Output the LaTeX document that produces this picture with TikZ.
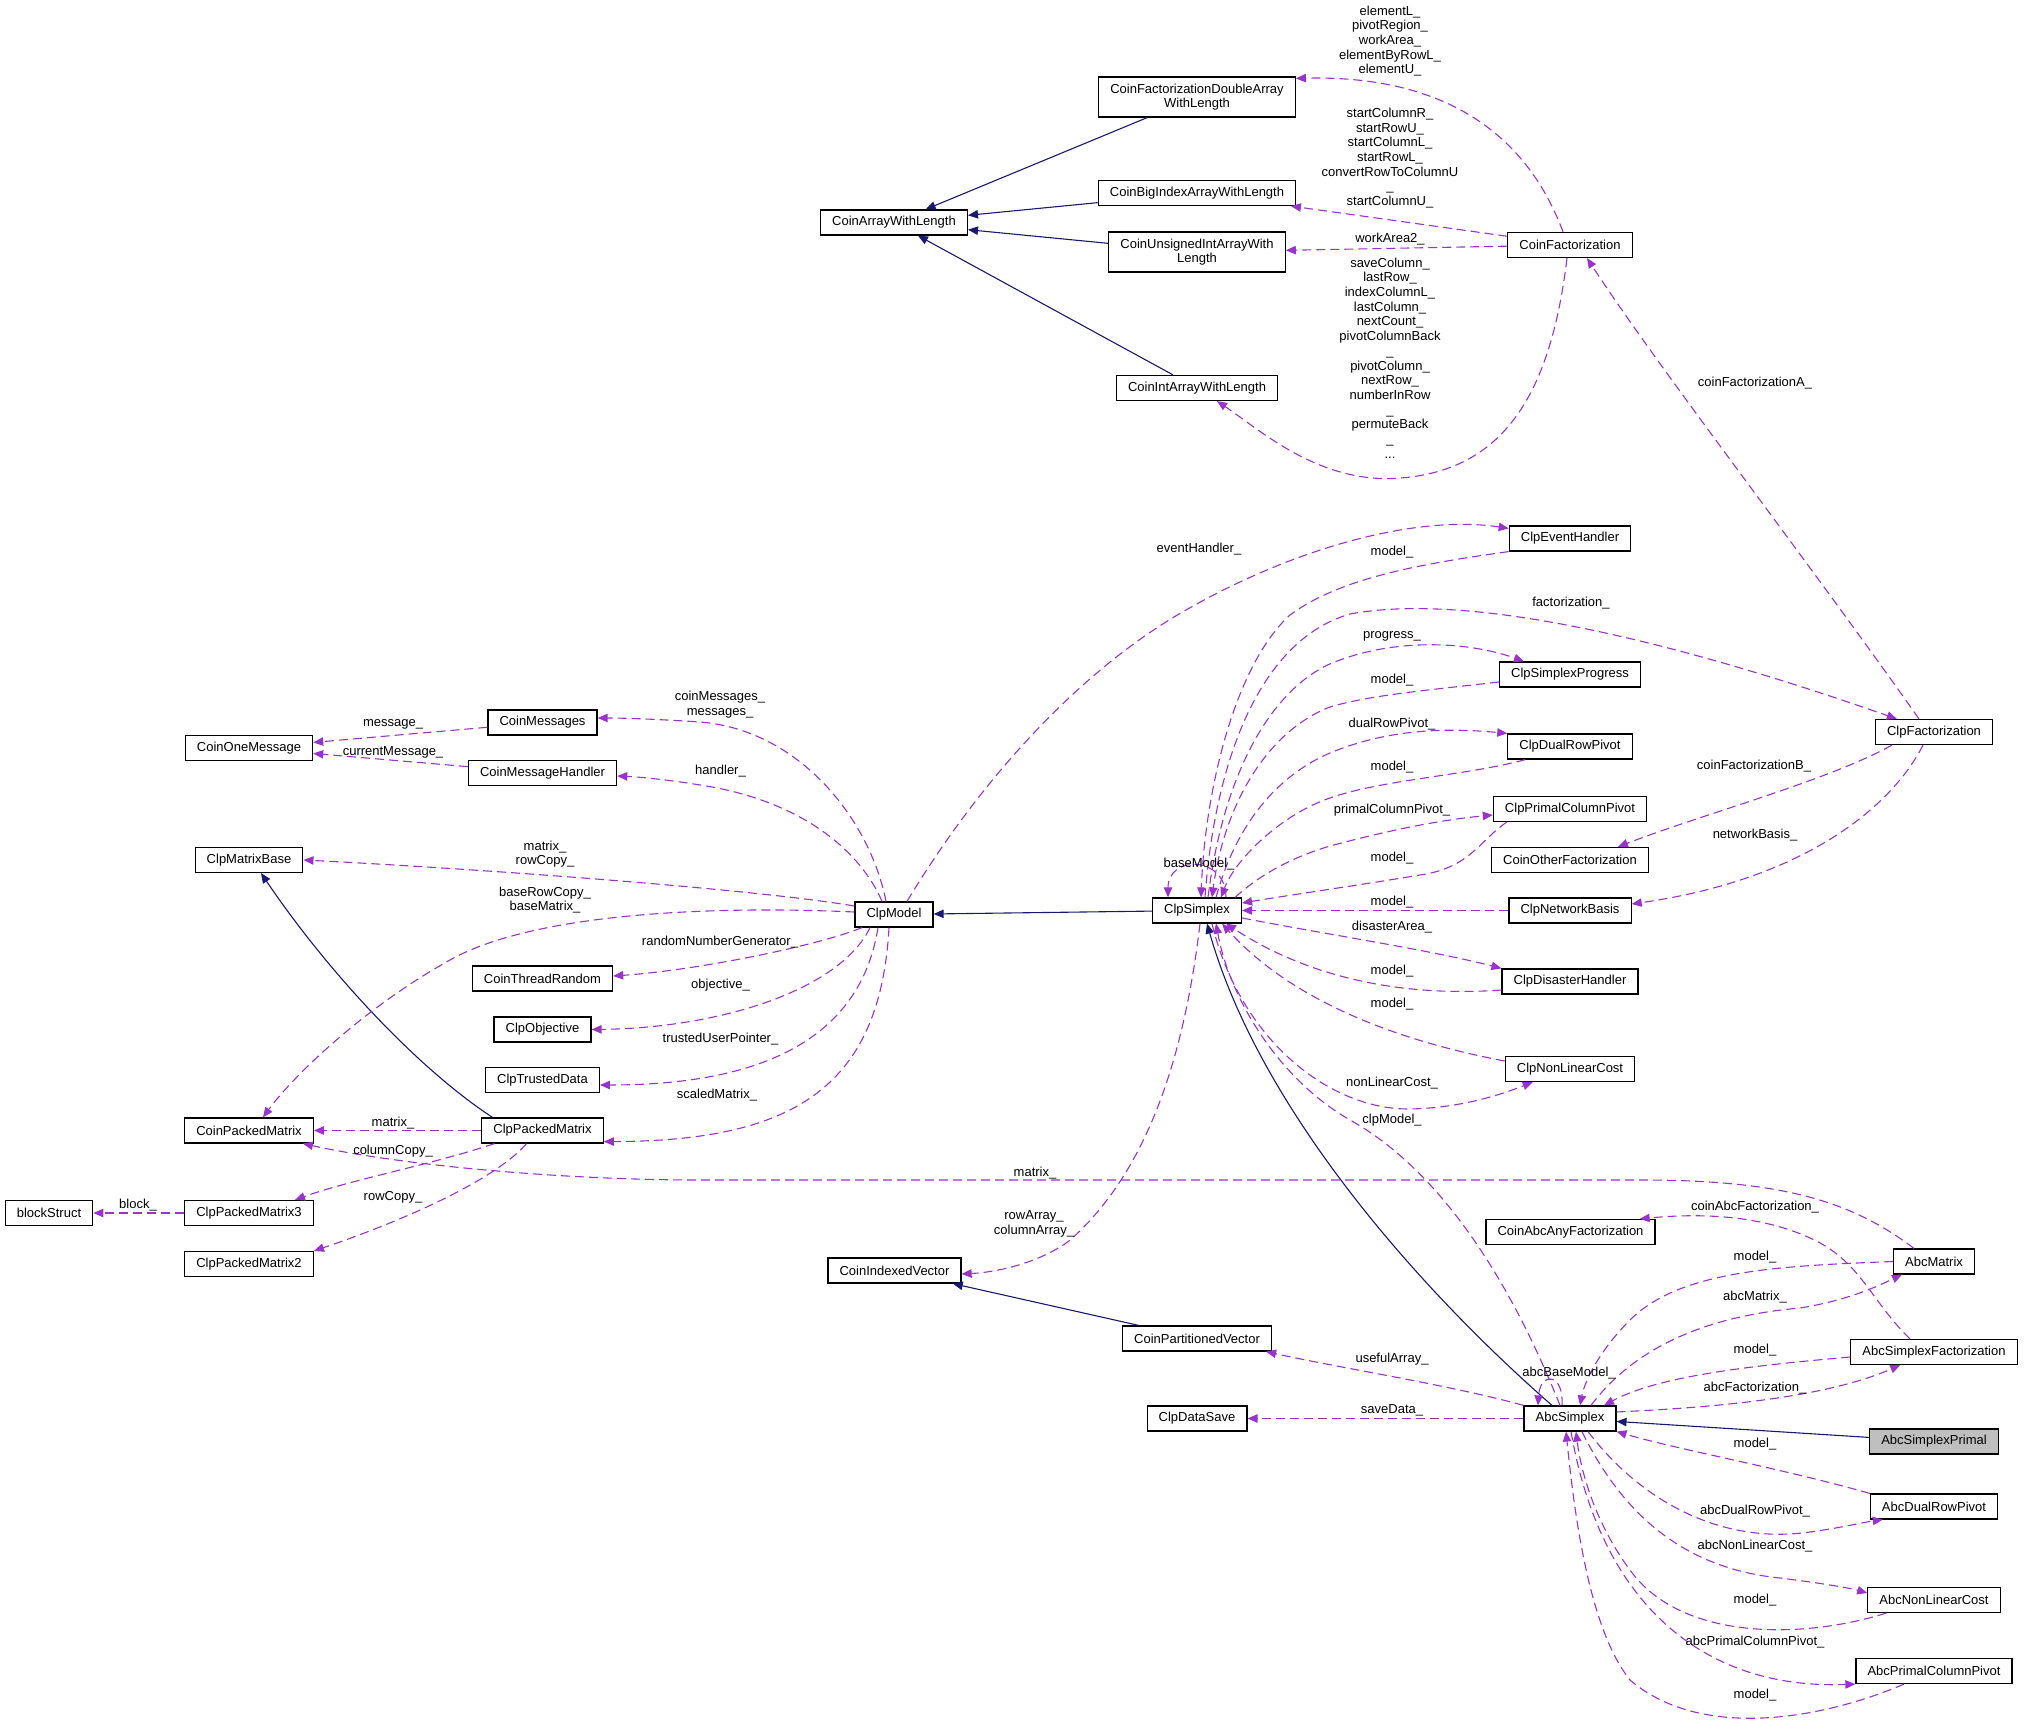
\documentclass[tikz,border=0pt]{standalone}
\usepackage{fontspec}
\setmainfont{Liberation Sans}
\usetikzlibrary{arrows.meta}
\definecolor{inhcol}{HTML}{191970}
\definecolor{usecol}{HTML}{9A32CD}
\definecolor{curcol}{HTML}{BFBFBF}
\tikzset{
	cls/.style={draw=black, line width=0.6pt, fill=white, inner xsep=5.8pt, inner ysep=0pt, minimum height=12.5pt, align=center, font=\fontsize{6.5}{7.3}\selectfont},
	tallcls/.style={cls, minimum height=20pt},
	cur/.style={cls, fill=curcol},
	lbl/.style={inner sep=0pt, align=center, font=\fontsize{6.5}{7.35}\selectfont},
	inherit/.style={draw=inhcol, line width=0.55pt, -{Triangle[length=5pt,width=4.2pt]}},
	usage/.style={draw=usecol, line width=0.55pt, dash pattern=on 4.5pt off 2.5pt, -{Triangle[length=5pt,width=4.2pt]}}
}
\begin{document}
\begin{tikzpicture}[x=0.5pt, y=-0.5pt]
		\useasboundingbox (0,0) rectangle (2024,1732);
		\path (894,222.5) node[cls] (cawl) {CoinArrayWithLength};
		\path (1197,97) node[tallcls] (cfdawl) {CoinFactorizationDoubleArray\\WithLength};
		\path (cfdawl) ++(0,96) node[cls] (cbiawl) {CoinBigIndexArrayWithLength};
		\path (cbiawl) ++(0,59) node[tallcls] (cuiawl) {CoinUnsignedIntArrayWith\\Length};
		\path (cuiawl) ++(0,136) node[cls] (ciawl) {CoinIntArrayWithLength};
		\path (1570,245) node[cls] (cfz) {CoinFactorization};
		\path (1570,538.5) node[cls] (ceh) {ClpEventHandler};
		\path (ceh) ++(0,136) node[cls] (csp) {ClpSimplexProgress};
		\path (csp) ++(0,72) node[cls] (cdrp) {ClpDualRowPivot};
		\path (cdrp) ++(0,62.5) node[cls] (cpcp) {ClpPrimalColumnPivot};
		\path (cpcp) ++(0,51) node[cls] (cof) {CoinOtherFactorization};
		\path (cof) ++(0,50.5) node[cls] (cnb) {ClpNetworkBasis};
		\path (cnb) ++(0,71) node[cls] (cdh) {ClpDisasterHandler};
		\path (cdh) ++(0,87.5) node[cls] (cnlc) {ClpNonLinearCost};
		\path (1570.5,1232) node[cls] (caaf) {CoinAbcAnyFactorization};
		\path (1570,1418.5) node[cls] (as) {AbcSimplex};
		\path (1934,732) node[cls] (cf) {ClpFactorization};
		\path (1934,1261.5) node[cls] (am) {AbcMatrix};
		\path (am) ++(0,90.5) node[cls] (asf) {AbcSimplexFactorization};
		\path (asf) ++(0,89.5) node[cur] (asp) {AbcSimplexPrimal};
		\path (asp) ++(0,65) node[cls] (adrp) {AbcDualRowPivot};
		\path (adrp) ++(0,93.5) node[cls] (anlc) {AbcNonLinearCost};
		\path (anlc) ++(0,71) node[cls] (apcp) {AbcPrimalColumnPivot};
		\path (1197,910.5) node[cls] (cs) {ClpSimplex};
		\path (894,914.5) node[cls] (cm) {ClpModel};
		\path (894.5,1270.5) node[cls] (civ) {CoinIndexedVector};
		\path (1197,1338.5) node[cls] (cpv) {CoinPartitionedVector};
		\path (cpv) ++(0,80) node[cls] (cds) {ClpDataSave};
		\path (542.5,722.5) node[cls] (cmsg) {CoinMessages};
		\path (cmsg) ++(0,50.5) node[cls] (cmh) {CoinMessageHandler};
		\path (542.5,978.5) node[cls] (ctr) {CoinThreadRandom};
		\path (ctr) ++(0,51) node[cls] (co) {ClpObjective};
		\path (co) ++(0,50.5) node[cls] (ctd) {ClpTrustedData};
		\path (ctd) ++(0,50.5) node[cls] (cpk) {ClpPackedMatrix};
		\path (249,748) node[cls] (com) {CoinOneMessage};
		\path (249,860) node[cls] (cmb) {ClpMatrixBase};
		\path (249,1130.5) node[cls] (cpm) {CoinPackedMatrix};
		\path (cpm) ++(0,82.5) node[cls] (cp3) {ClpPackedMatrix3};
		\path (cp3) ++(0,51) node[cls] (cp2) {ClpPackedMatrix2};
		\path (49,1213) node[cls] (bs) {blockStruct};

		\path[inherit] (cfdawl) -- (cawl);
		\path[inherit] (cbiawl) -- (cawl);
		\path[inherit] (cuiawl) -- (cawl);
		\path[inherit] (ciawl) -- (cawl);
		\path[inherit] (cs) -- (cm);
		\path[inherit] ([xshift=-25pt]cpk.north) .. controls (420,1070) and (330,975) .. ([xshift=6pt]cmb.south);
		\path[inherit] (cpv) -- (civ);
		\path[inherit] ([xshift=-9pt]as.north) .. controls (1420,1290) and (1260,1110) .. ([xshift=5pt]cs.south);
		\path[inherit] (asp) -- (as);

		\path[usage] ([xshift=-3.5pt]cfz.north) .. controls (1525,130) and (1440,75) .. ([yshift=-1pt]cfdawl.north east);
		\path[usage] (cfz) -- (cbiawl);
		\path[usage] (cfz) -- (cuiawl);
		\path[usage] ([xshift=-1.5pt]cfz.south) .. controls (1550,400) and (1500,470) .. (1401,478) .. controls (1320,485) and (1260,430) .. ([xshift=10pt]ciawl.south);
		\path[usage] ([xshift=-7.5pt]cf.north) .. controls (1800,550) and (1660,370) .. ([xshift=8.5pt]cfz.south);
		\path[usage] ([xshift=8.5pt]cf.south west) .. controls (1830,780) and (1700,815) .. ([xshift=24pt]cof.north);
		\path[usage] ([xshift=-5.5pt]cf.south) .. controls (1890,810) and (1800,880) .. ([yshift=3.25pt]cnb.east);
		\path[usage] ([xshift=4pt]cs.north) .. controls (1215,760) and (1260,640) .. (1350,614) .. controls (1480,590) and (1700,650) .. ([xshift=11pt]cf.north west);
		\path[usage] ([xshift=6.5pt]cm.north) .. controls (980,780) and (1080,670) .. (1186,610) .. controls (1300,545) and (1420,515) .. ([yshift=-1.5pt]ceh.north west);
		\path[usage] (ceh.south west) .. controls (1420,564) and (1340,578) .. (1290,615) .. controls (1235,665) and (1205,790) .. ([xshift=2pt]cs.north);
		\path[usage] ([xshift=5.5pt]cs.north) .. controls (1225,760) and (1280,680) .. (1340,660) .. controls (1400,638) and (1470,642) .. ([xshift=12.5pt]csp.north west);
		\path[usage] ([yshift=-3.75pt]csp.west) .. controls (1430,690) and (1370,695) .. (1330,707) .. controls (1270,730) and (1225,800) .. ([xshift=7.5pt]cs.north);
		\path[usage] ([xshift=9.5pt]cs.north) .. controls (1240,810) and (1290,770) .. (1330,753) .. controls (1390,728) and (1450,728) .. (cdrp.north west);
		\path[usage] ([xshift=9pt]cdrp.south west) .. controls (1470,775) and (1380,780) .. (1330,798) .. controls (1280,815) and (1235,860) .. ([xshift=12pt]cs.north);
		\path[usage] ([xshift=-3.5pt]cs.north east) .. controls (1265,870) and (1300,855) .. (1330,846) .. controls (1390,830) and (1440,820) .. ([yshift=-3pt]cpcp.west);
		\path[usage] ([xshift=7pt]cpcp.south west) .. controls (1480,840) and (1470,868) .. (1420,875) .. controls (1360,885) and (1290,895) .. ([yshift=3.75pt]cs.east);
		\path[usage] (cnb.west) -- (cs.east);
		\path[usage] ([yshift=-3.75pt]cs.east) .. controls (1330,935) and (1430,950) .. (cdh.north west);
		\path[usage] ([yshift=-4.25pt]cdh.west) .. controls (1420,996) and (1320,985) .. ([xshift=14.5pt]cs.south);
		\path[usage] ([yshift=4pt]cnlc.west) .. controls (1420,1045) and (1300,1010) .. ([xshift=12.5pt]cs.south);
		\path[usage] ([xshift=7.5pt]cs.south) .. controls (1240,1040) and (1330,1110) .. (1410,1109) .. controls (1460,1108) and (1500,1095) .. ([xshift=14pt]cnlc.south west);
		\path[usage] ([xshift=-5pt]as.north) .. controls (1510,1280) and (1440,1170) .. (1350,1120) .. controls (1280,1080) and (1230,1000) .. ([xshift=9.5pt]cs.south);
		\path[usage] ([xshift=14.5pt]cs.north) .. controls (1226,855) and (1168,855) .. ([xshift=-14.5pt]cs.north);
		\path[usage] ([xshift=1.5pt]cs.south) .. controls (1185,1050) and (1150,1170) .. (1069,1241) .. controls (1040,1262) and (1000,1272) .. ([yshift=-1.75pt]civ.east);

		\path[usage] ([xshift=-4pt]cm.north) .. controls (870,820) and (800,730) .. (700,722) .. controls (670,720) and (630,718) .. ([yshift=2.25pt]cmsg.east);
		\path[usage] ([xshift=-6pt]cm.north) .. controls (860,850) and (800,800) .. (700,785) .. controls (670,780) and (640,777) .. ([yshift=-1.5pt]cmh.east);
		\path[usage] ([yshift=4.25pt]cm.west) .. controls (760,890) and (500,870) .. (cmb.east);
		\path[usage] ([yshift=1.25pt]cm.west) .. controls (700,905) and (530,915) .. (450,960) .. controls (360,1010) and (290,1080) .. ([xshift=7pt]cpm.north);
		\path[usage] ([xshift=-16pt]cm.south) .. controls (820,945) and (700,970) .. ([yshift=1.25pt]ctr.east);
		\path[usage] ([xshift=-12pt]cm.south) .. controls (840,990) and (720,1028) .. (co.east);
		\path[usage] ([xshift=-8pt]cm.south) .. controls (860,1040) and (760,1085) .. ([yshift=-2.5pt]ctd.east);
		\path[usage] ([xshift=-2.5pt]cm.south) .. controls (880,1090) and (790,1141) .. ([yshift=1pt]cpk.south east);
		\path[usage] (cmsg) -- (com);
		\path[usage] (cmh) -- (com);
		\path[usage] (cpk) -- (cpm);
		\path[usage] ([xshift=-24pt]cpk.south) .. controls (430,1165) and (350,1180) .. ([xshift=23pt]cp3.north);
		\path[usage] ([xshift=-8pt]cpk.south) .. controls (500,1175) and (420,1215) .. (cp2.north east);
		\path[usage] (cp3) -- (bs);
		\path[usage] ([xshift=-10pt]am.north) .. controls (1850,1200) and (1780,1180) .. (1640,1180) -- (700,1180) .. controls (560,1180) and (400,1165) .. ([xshift=-5.5pt]cpm.south east);

		\path[usage] ([xshift=-12pt]asf.north) .. controls (1870,1300) and (1860,1260) .. (1810,1238) .. controls (1760,1215) and (1700,1213) .. ([xshift=-8pt]caaf.north east);
		\path[usage] (am.west) .. controls (1780,1266) and (1680,1270) .. (1630,1320) .. controls (1600,1350) and (1585,1380) .. ([xshift=5pt]as.north);
		\path[usage] ([xshift=10.5pt]as.north) .. controls (1640,1340) and (1720,1315) .. (1800,1308) .. controls (1850,1300) and (1880,1285) .. ([xshift=4.5pt]am.south west);
		\path[usage] ([yshift=-2.5pt]asf.west) .. controls (1760,1365) and (1660,1375) .. ([xshift=17pt]as.north);
		\path[usage] ([yshift=3.25pt]as.east) .. controls (1700,1408) and (1820,1400) .. ([xshift=25pt]asf.south west);
		\path[usage] ([xshift=-4pt]as.north) .. controls (1564,1372) and (1540,1372) .. ([xshift=-16pt]as.north);
		\path[usage] (as.north west) .. controls (1450,1385) and (1340,1368) .. ([xshift=-3pt]cpv.south east);
		\path[usage] (as) -- (cds);
		\path[usage] (adrp.north west) .. controls (1780,1468) and (1680,1450) .. (as.south east);
		\path[usage] ([xshift=9pt]as.south) .. controls (1640,1500) and (1720,1545) .. (1810,1532) .. controls (1840,1528) and (1865,1522) .. ([xshift=6.5pt]adrp.south west);
		\path[usage] ([xshift=6pt]as.south) .. controls (1630,1530) and (1700,1570) .. (1780,1578) .. controls (1820,1583) and (1850,1588) .. ([yshift=3.5pt]anlc.west);
		\path[usage] ([xshift=9.5pt]anlc.south west) .. controls (1800,1640) and (1680,1640) .. (1630,1570) .. controls (1600,1530) and (1582,1480) .. ([xshift=3pt]as.south);
		\path[usage] ([xshift=0.5pt]as.south) .. controls (1600,1600) and (1700,1690) .. (apcp.south west);
		\path[usage] ([xshift=-15pt]apcp.south) .. controls (1820,1720) and (1700,1740) .. (1630,1680) .. controls (1590,1630) and (1575,1520) .. ([xshift=-2pt]as.south);

		\path (1390,41) node[lbl] (lelem) {elementL\_\\pivotRegion\_\\workArea\_\\elementByRowL\_\\elementU\_};
		\path (1390,158) node[lbl] (lstart) {startColumnR\_\\startRowU\_\\startColumnL\_\\startRowL\_\\convertRowToColumnU\\\_\\startColumnU\_};
		\path (1390,239.5) node[lbl] (lwork) {workArea2\_};
		\path (1390,358) node[lbl] (lsave) {saveColumn\_\\lastRow\_\\indexColumnL\_\\lastColumn\_\\nextCount\_\\pivotColumnBack\\\_\\pivotColumn\_\\nextRow\_\\numberInRow\\\_\\permuteBack\\\_\\...};
		\path (1755,383.5) node[lbl] (lcfa) {coinFactorizationA\_};
		\path (1199,549) node[lbl] (levh) {eventHandler\_};
		\path (1392,552) node[lbl] (lmevh) {model\_};
		\path (1571,603) node[lbl] (lfact) {factorization\_};
		\path (1392,636) node[lbl] (lprog) {progress\_};
		\path (1392,680) node[lbl] (lmprog) {model\_};
		\path (1392,724) node[lbl] (ldrp) {dualRowPivot\_};
		\path (1392,767.5) node[lbl] (lmdrp) {model\_};
		\path (1392,810.5) node[lbl] (lpcp) {primalColumnPivot\_};
		\path (1392,858) node[lbl] (lmpcp) {model\_};
		\path (1392,902) node[lbl] (lmnb) {model\_};
		\path (1392,927) node[lbl] (ldis) {disasterArea\_};
		\path (1392,971.5) node[lbl] (lmdis) {model\_};
		\path (1392,1004) node[lbl] (lmnlc) {model\_};
		\path (1392,1082.6) node[lbl] (lnlc) {nonLinearCost\_};
		\path (1392,1120.5) node[lbl] (lclp) {clpModel\_};
		\path (1754,766) node[lbl] (lcfb) {coinFactorizationB\_};
		\path (1755,835) node[lbl] (lnet) {networkBasis\_};
		\path (1199,864) node[lbl] (lbase) {baseModel\_};
		\path (720,704.5) node[lbl] (lmsgs) {coinMessages\_\\messages\_};
		\path (720.5,770.6) node[lbl] (lhand) {handler\_};
		\path (545,854) node[lbl] (lmat) {matrix\_\\rowCopy\_};
		\path (545,900) node[lbl] (lbrc) {baseRowCopy\_\\baseMatrix\_};
		\path (720,942) node[lbl] (lrng) {randomNumberGenerator\_};
		\path (720.5,985) node[lbl] (lobj) {objective\_};
		\path (720.5,1039) node[lbl] (ltup) {trustedUserPointer\_};
		\path (717,1095) node[lbl] (lscal) {scaledMatrix\_};
		\path (393,724) node[lbl] (lmsg) {message\_};
		\path (393,752) node[lbl] (lcur) {currentMessage\_};
		\path (393,1123) node[lbl] (lmatp) {matrix\_};
		\path (393,1151) node[lbl] (lcolc) {columnCopy\_};
		\path (393,1197) node[lbl] (lrowc) {rowCopy\_};
		\path (138,1205) node[lbl] (lblock) {block\_};
		\path (1035,1173) node[lbl] (lmata) {matrix\_};
		\path (1034,1224) node[lbl] (lrow) {rowArray\_\\columnArray\_};
		\path (1755,1206.6) node[lbl] (lcaf) {coinAbcFactorization\_};
		\path (1755,1256.6) node[lbl] (lmam) {model\_};
		\path (1755,1296.6) node[lbl] (lamat) {abcMatrix\_};
		\path (1392,1359) node[lbl] (luse) {usefulArray\_};
		\path (1755,1350) node[lbl] (lmasf) {model\_};
		\path (1569,1373) node[lbl] (labase) {abcBaseModel\_};
		\path (1755,1387.6) node[lbl] (lafact) {abcFactorization\_};
		\path (1392,1410.6) node[lbl] (lsave2) {saveData\_};
		\path (1755,1444.5) node[lbl] (lmadrp) {model\_};
		\path (1755,1511) node[lbl] (ladrp) {abcDualRowPivot\_};
		\path (1755,1546) node[lbl] (lanlc) {abcNonLinearCost\_};
		\path (1755,1600) node[lbl] (lmanlc) {model\_};
		\path (1755,1642.5) node[lbl] (lapcp) {abcPrimalColumnPivot\_};
		\path (1755,1695.5) node[lbl] (lmapcp) {model\_};
	\end{tikzpicture}
\end{document}
